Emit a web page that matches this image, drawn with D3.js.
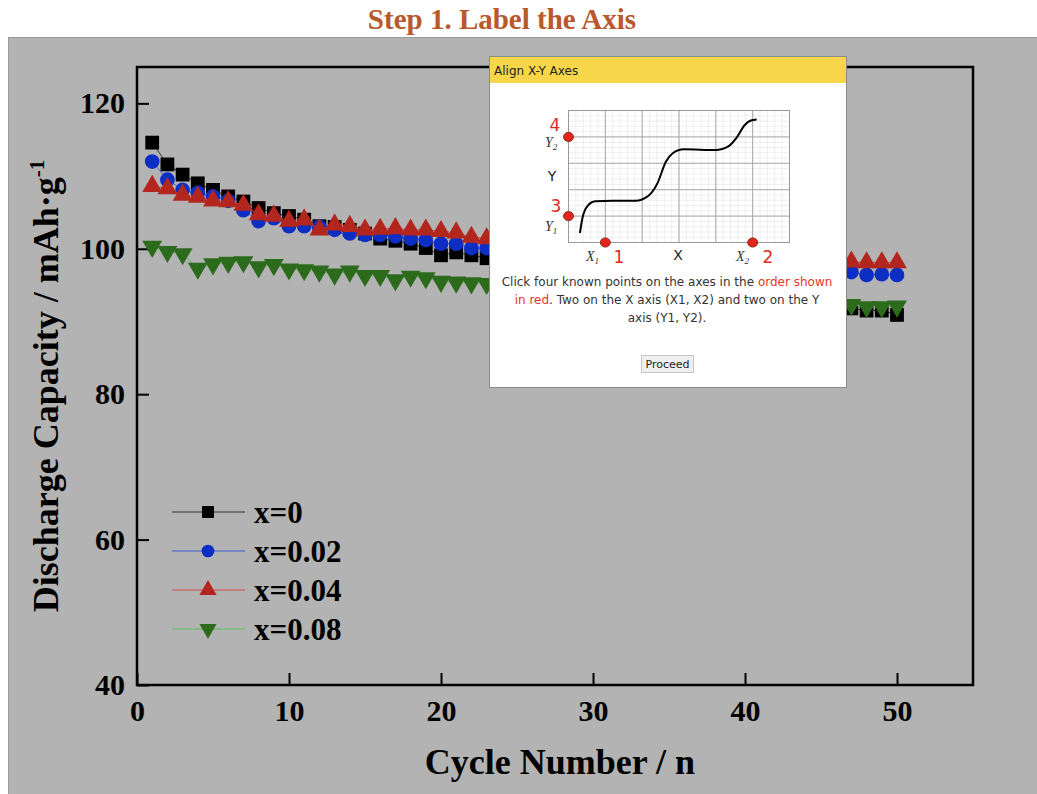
<!DOCTYPE html>
<html>
<head>
<meta charset="utf-8">
<script src="https://cdn.jsdelivr.net/npm/d3@7"></script>
<style>
  body { margin: 0; background: #fff; }
  .tick text { font-family: "Liberation Serif", serif; font-weight: bold; }
  .dlg { font-family: "DejaVu Sans", sans-serif; }
</style>
</head>
<body>
<svg id="page" width="1037" height="794"></svg>
<script>
/* discharge capacity vs cycle, digitizer screenshot */
const cycles = [1,2,3,4,5,6,7,8,9,10,11,12,13,14,15,16,17,18,19,20,21,22,23,47,48,49,50];
const cap_x0   = [114.6,111.6,110.2,109.0,108.1,107.2,106.5,105.6,104.9,104.5,104.0,103.1,103.0,102.6,102.1,101.4,101.1,100.7,100.1,99.1,99.5,99.1,98.7,91.8,91.5,91.5,90.9];
const cap_x002 = [112.0,109.5,108.1,107.7,107.2,106.6,105.3,103.8,104.2,103.1,103.1,103.0,102.6,102.1,101.9,101.9,101.7,101.4,101.2,100.7,100.7,100.1,100.1,96.8,96.4,96.5,96.4];
const cap_x004 = [108.6,108.3,107.4,107.1,106.6,106.5,106.0,104.7,104.5,103.8,104.0,102.6,103.3,103.1,102.6,102.7,102.8,102.6,102.6,102.4,102.2,101.6,101.4,98.2,98.1,98.1,98.1];
const cap_x008 = [100.3,99.6,99.3,97.3,97.9,98.1,98.2,97.5,97.8,97.2,97.1,96.9,96.5,96.9,96.3,96.3,95.7,96.2,96.0,95.5,95.4,95.3,95.2,92.3,92.0,92.0,92.1];
const seriesNames = ['x=0', 'x=0.02', 'x=0.04', 'x=0.08'];

const xTicks = [0, 10, 20, 30, 40, 50];
const yTicks = [40, 60, 80, 100, 120];

let svg = d3.select('#page');

// page title + grey canvas
svg.append('text').text('Step 1. Label the Axis')
    .attr('x', 502).attr('y', 29).attr('text-anchor', 'middle')
    .attr('font-family', 'Liberation Serif, serif').attr('font-weight', 'bold')
    .attr('font-size', 29).attr('fill', '#b9582b');
svg.append('rect').attr('x', 8).attr('y', 37).attr('width', 1040).attr('height', 780)
    .attr('fill', '#b3b3b3');
svg.append('line').attr('x1', 8).attr('x2', 1037).attr('y1', 37.5).attr('y2', 37.5)
    .attr('stroke', '#9a9a9a');
svg.append('line').attr('x1', 8.5).attr('x2', 8.5).attr('y1', 37).attr('y2', 794)
    .attr('stroke', '#9a9a9a');

let x = d3.scaleLinear().domain([0, 55]).range([137, 973]);
let y = d3.scaleLinear().domain([40, 125]).range([685, 67]);

// axes, ticks pointing inward
let gx = svg.append('g').attr('transform', 'translate(0,685)');
gx.call(d3.axisBottom(x).tickValues(d3.range(5, 55, 10)).tickSize(-7).tickFormat(''));
gx.call(d3.axisBottom(x).tickValues(xTicks).tickSize(-12).tickPadding(15).tickFormat(d3.format('d')));
gx.selectAll('.tick text').attr('font-size', 30).attr('fill', '#000').attr('dy', '0.71em');
gx.selectAll('.tick line').attr('stroke', '#000').attr('stroke-width', 2);
gx.selectAll('.domain').remove();

let gy = svg.append('g').attr('transform', 'translate(137,0)');
gy.call(d3.axisLeft(y).tickValues(d3.range(50, 125, 20)).tickSize(-7).tickFormat(''));
gy.call(d3.axisLeft(y).tickValues(yTicks).tickSize(-12).tickPadding(12).tickFormat(d3.format('d')));
gy.selectAll('.tick text').attr('font-size', 30).attr('fill', '#000');
gy.selectAll('.tick line').attr('stroke', '#000').attr('stroke-width', 2);
gy.selectAll('.domain').remove();

svg.append('rect').attr('x', x(0)).attr('y', y(125)).attr('width', x(55) - x(0)).attr('height', y(40) - y(125))
    .attr('fill', 'none').attr('stroke', '#000').attr('stroke-width', 2.5);

// axis titles
svg.append('text').text('Cycle Number / n')
    .attr('x', 560).attr('y', 774).attr('text-anchor', 'middle')
    .attr('font-family', 'Liberation Serif, serif').attr('font-weight', 'bold').attr('font-size', 36);
let yt = svg.append('text').attr('transform', 'translate(58,386) rotate(-90)').attr('text-anchor', 'middle')
    .attr('font-family', 'Liberation Serif, serif').attr('font-weight', 'bold').attr('font-size', 36);
yt.append('tspan').text('Discharge Capacity / mAh\u00b7g');
yt.append('tspan').text('-1').attr('font-size', 21).attr('dy', -14);

// series
const lineColors = ['#333333', '#3f5fd6', '#d24a4a', '#5fc05f'];
const markColors = ['#000000', '#0c2ec4', '#b3261e', '#2c6a1c'];
const symbols = [d3.symbolSquare, d3.symbolCircle, d3.symbolTriangle, d3.symbolTriangle];
const symSize = [190, 170, 170, 170];
const allCaps = [cap_x0, cap_x002, cap_x004, cap_x008];

let line = d3.line().x(d => x(d[0])).y(d => y(d[1]));

allCaps.forEach((vals, s) => {
    let pts = cycles.map((c, i) => [c, vals[i]]);
    svg.append('path').attr('d', line(pts)).attr('fill', 'none')
        .attr('stroke', lineColors[s]).attr('stroke-width', 1);
    svg.append('g').selectAll('path').data(pts).join('path')
        .attr('d', d3.symbol(symbols[s], symSize[s]))
        .attr('transform', d => 'translate(' + x(d[0]) + ',' + y(d[1]) + ')' + (s === 3 ? ' rotate(180)' : ''))
        .attr('fill', markColors[s]);
});

// legend
seriesNames.forEach((name, s) => {
    let ly = 512 + s * 39;
    svg.append('line').attr('x1', 172).attr('x2', 245).attr('y1', ly).attr('y2', ly)
        .attr('stroke', lineColors[s]).attr('stroke-width', 1.2);
    svg.append('path').attr('d', d3.symbol(symbols[s], symSize[s] * 0.75))
        .attr('transform', 'translate(208,' + ly + ')' + (s === 3 ? ' rotate(180)' : ''))
        .attr('fill', markColors[s]);
    svg.append('text').text(name).attr('x', 254).attr('y', ly + 11)
        .attr('font-family', 'Liberation Serif, serif').attr('font-weight', 'bold').attr('font-size', 31);
});

// "Align X-Y Axes" popup
let dlg = svg.append('g').classed('dlg', true);
dlg.append('rect').attr('x', 489.5).attr('y', 56.5).attr('width', 357).attr('height', 331)
    .attr('fill', '#fff').attr('stroke', '#8a8a8a');
dlg.append('rect').attr('x', 490).attr('y', 57).attr('width', 356).attr('height', 26).attr('fill', '#f8d64a');
dlg.append('text').text('Align X-Y Axes').attr('x', 494).attr('y', 75).attr('font-size', 12).attr('fill', '#222');

// small sketch of a graph
let gxs = d3.scaleLinear().domain([0, 6]).range([568.5, 789.5]);
let gys = d3.scaleLinear().domain([0, 5]).range([242.5, 110.5]);
let sk = dlg.append('g');
d3.range(0, 6.01, 0.2).forEach(v => sk.append('line').attr('x1', gxs(v)).attr('x2', gxs(v))
    .attr('y1', gys(0)).attr('y2', gys(5)).attr('stroke', '#e4e4e4').attr('stroke-width', 0.6));
d3.range(0, 5.01, 0.2).forEach(v => sk.append('line').attr('y1', gys(v)).attr('y2', gys(v))
    .attr('x1', gxs(0)).attr('x2', gxs(6)).attr('stroke', '#e4e4e4').attr('stroke-width', 0.6));
d3.range(0, 7).forEach(v => sk.append('line').attr('x1', gxs(v)).attr('x2', gxs(v))
    .attr('y1', gys(0)).attr('y2', gys(5)).attr('stroke', '#a8a8a8').attr('stroke-width', 1));
d3.range(0, 6).forEach(v => sk.append('line').attr('y1', gys(v)).attr('y2', gys(v))
    .attr('x1', gxs(0)).attr('x2', gxs(6)).attr('stroke', '#a8a8a8').attr('stroke-width', 1));
sk.append('rect').attr('x', gxs(0)).attr('y', gys(5)).attr('width', gxs(6) - gxs(0)).attr('height', gys(0) - gys(5))
    .attr('fill', 'none').attr('stroke', '#999');

const sketchCurve = [[0.31,0.36],[0.38,0.94],[0.52,1.39],[0.73,1.56],[1.2,1.58],[1.82,1.58],[2.17,1.77],[2.42,2.26],
    [2.64,3.05],[2.83,3.38],[3.13,3.53],[4.0,3.5],[4.35,3.65],[4.57,3.98],[4.78,4.44],[4.95,4.62],[5.11,4.66]];
sk.append('path').attr('d', d3.line().x(d => gxs(d[0])).y(d => gys(d[1])).curve(d3.curveMonotoneX)(sketchCurve))
    .attr('fill', 'none').attr('stroke', '#000').attr('stroke-width', 2);

// the four calibration points: [gx, gy]
const calib = [[1, 0], [5, 0], [0, 1], [0, 4]];
calib.forEach(c => {
    sk.append('ellipse').attr('cx', gxs(c[0])).attr('cy', gys(c[1])).attr('rx', 5).attr('ry', 4.6)
        .attr('fill', '#e3261c').attr('stroke', '#7a1a10').attr('stroke-width', 0.8);
});
let italic = (tx, ty, letter, sub) => {
    let t = sk.append('text').attr('x', tx).attr('y', ty).attr('font-family', 'Liberation Serif, serif')
        .attr('font-style', 'italic').attr('font-size', 14).attr('fill', '#333');
    t.append('tspan').text(letter);
    t.append('tspan').text(sub).attr('font-size', 9).attr('dy', 3);
};
let redNum = (tx, ty, n) => sk.append('text').text(n).attr('x', tx).attr('y', ty)
    .attr('font-size', 17).attr('fill', '#e02a20').attr('text-anchor', 'middle');
italic(586, 261, 'X', '1'); redNum(619, 263, '1');
italic(736, 261, 'X', '2'); redNum(768, 263, '2');
italic(545, 231, 'Y', '1'); redNum(556, 212, '3');
italic(545, 147, 'Y', '2'); redNum(555, 131, '4');
sk.append('text').text('X').attr('x', 678).attr('y', 260).attr('text-anchor', 'middle').attr('font-size', 14).attr('fill', '#222');
sk.append('text').text('Y').attr('x', 552).attr('y', 181).attr('text-anchor', 'middle').attr('font-size', 14).attr('fill', '#222');

// instructions
let msg = dlg.append('text').attr('text-anchor', 'middle').attr('font-size', 12).attr('fill', '#333');
msg.append('tspan').attr('x', 667).attr('y', 286).text('Click four known points on the axes in the ')
    .append('tspan').text('order shown').attr('fill', '#e8352b');
let l2 = msg.append('tspan').attr('x', 667).attr('y', 304);
l2.append('tspan').text('in red').attr('fill', '#e8352b');
l2.append('tspan').text('. Two on the X axis (X1, X2) and two on the Y');
msg.append('tspan').attr('x', 667).attr('y', 322).text('axis (Y1, Y2).');

dlg.append('rect').attr('x', 641.5).attr('y', 355.5).attr('width', 52).attr('height', 17)
    .attr('fill', '#efefef').attr('stroke', '#c4c4c4');
dlg.append('text').text('Proceed').attr('x', 667.5).attr('y', 368).attr('text-anchor', 'middle')
    .attr('font-size', 11).attr('fill', '#222');
</script>
</body>
</html>
